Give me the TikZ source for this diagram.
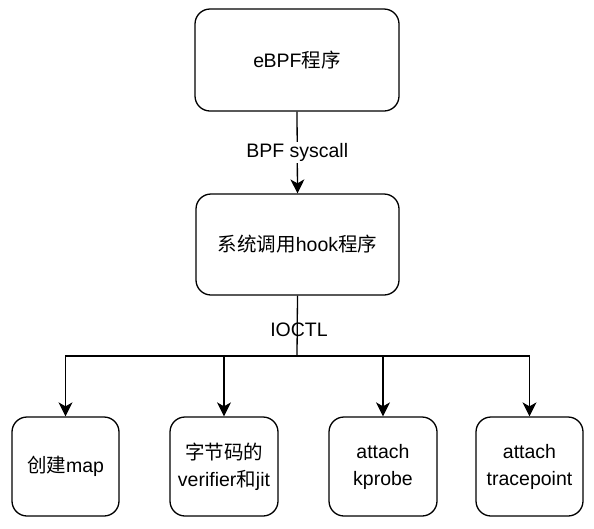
\documentclass[tikz,border=0pt]{standalone}
\usepackage{fontspec}
\setmainfont{Liberation Sans}
\newfontfamily\cjk{Noto Sans CJK SC}
\usetikzlibrary{arrows.meta}
\begin{document}
\begin{tikzpicture}[x=1pt,y=-1pt,
  box/.style={draw=black,line width=1.3pt,rounded corners=15pt,fill=white,align=center,
    font=\fontsize{19.5}{27}\selectfont},
  arr/.style={line width=1.3pt,-{Stealth[length=14pt,width=14pt,inset=4pt]}},
  lbl/.style={font=\fontsize{19.5}{24}\selectfont,inner sep=1pt}]
\useasboundingbox (0,0) rectangle (594,528);
\node[box,minimum width=204pt,minimum height=102pt] (ebpf) at (297,60) {e\kern-0.5ptBPF{\cjk 程序}};
\node[box,minimum width=203pt,minimum height=101pt] (hook) at (297.5,244.5) {{\cjk 系统调用}hook{\cjk 程序}};
\node[box,minimum width=107pt,minimum height=99pt] (b1) at (65.5,466.5) {{\cjk 创建}map};
\node[box,minimum width=108pt,minimum height=99pt] (b2) at (224,466.5) {{\cjk 字节码的}\\verifier{\cjk 和}jit};
\node[box,minimum width=108pt,minimum height=99pt] (b3) at (383,466.5) {attach\\kprobe};
\node[box,minimum width=107pt,minimum height=99pt] (b4) at (529.5,466.5) {attach\\tracepoint};
\draw[arr] (ebpf.south) -- node[lbl,fill=white] (sys) {BPF syscall} (hook.north);
\coordinate (j) at (297,356);
\draw[line width=1.3pt] (hook.south) -- (j);
\node[lbl] (ioctl) at (299,330) {IOCTL};
\draw[arr] (j) -| (b1.north);
\draw[arr] (j) -| (b2.north);
\draw[arr] (j) -| (b3.north);
\draw[arr] (j) -| (b4.north);
\end{tikzpicture}
\end{document}
